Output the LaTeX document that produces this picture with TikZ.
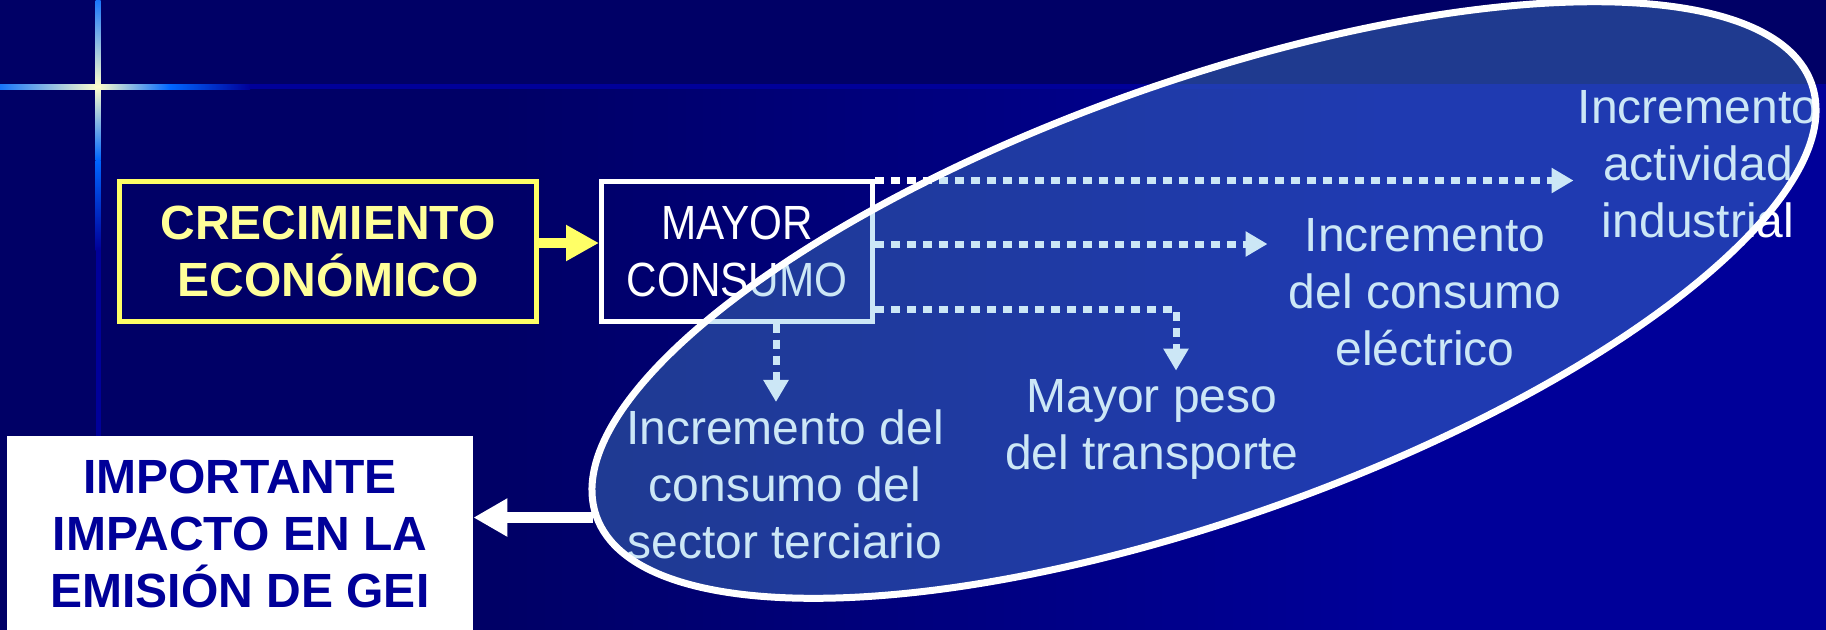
\documentclass[tikz,border=0pt]{standalone}
\usepackage{fontspec}
\setmainfont{Liberation Sans}
\newfontfamily\narrowfont[FakeStretch=0.88]{Liberation Sans}
\usepackage{tikz}
\usetikzlibrary{arrows.meta, positioning, shapes.geometric}
\definecolor{navy}{HTML}{000066}
\definecolor{deepblue}{HTML}{000099}
\definecolor{crossblue}{HTML}{0066FF}
\definecolor{cream}{HTML}{FFFFCC}
\definecolor{yelline}{HTML}{FFFF66}
\definecolor{yeltext}{HTML}{FFFF99}
\definecolor{impblue}{HTML}{000099}
\definecolor{cloudfill}{HTML}{61B5E6}

\begin{document}
\begin{tikzpicture}[x=0.5pt, y=-0.5pt, node distance=30pt,
    txt/.style={align=center, inner sep=0pt, text=white, font=\fontsize{24}{28.5}\selectfont},
    dotarrow/.style={-{Triangle[length=11pt, width=12pt]}, white, line width=3.5pt, dash pattern=on 4.5pt off 3.5pt}]
    \useasboundingbox (0,0) rectangle (1826,629);
    % Background
    \fill[navy] (-10,-10) rectangle (1836,86.5);
    \fill[navy] (-10,86.5) rectangle (500,640);
    \shade[left color=navy, right color=deepblue] (500,86.5) rectangle (1400,640);
    \fill[deepblue] (1400,86.5) rectangle (1836,640);
    % Cross
    \shade[left color=crossblue, right color=cream] (-10,84) rectangle (98,89);
    \shade[left color=cream, right color=crossblue] (98,84) rectangle (170,89);
    \shade[left color=crossblue, right color=deepblue] (170,84) rectangle (250,89);
    \fill[deepblue] (250,84) rectangle (1836,89);
    \shade[top color=crossblue, bottom color=cream] (95.5,-10) rectangle (100.5,86.5);
    \shade[top color=cream, bottom color=crossblue] (95.5,86.5) rectangle (100.5,160);
    \shade[top color=crossblue, bottom color=deepblue] (95.5,160) rectangle (100.5,250);
    \fill[deepblue] (95.5,250) rectangle (100.5,640);

    % Nodes
    \node[draw=yelline, line width=2.5pt, minimum width=208.5pt, minimum height=70pt, inner sep=0pt, align=center, text=yeltext, font=\bfseries\fontsize{24}{28.5}\selectfont] (crec) at (328,251) {CRECIMIENTO\\ECONÓMICO};
    \node[draw=white, line width=2.5pt, minimum width=135.5pt, minimum height=70pt, inner sep=0pt, align=center, text=white, font=\narrowfont\fontsize{24}{28.5}\selectfont, right=of crec] (mayor) {MAYOR\\CONSUMO};
    \node[fill=white, minimum width=233pt, minimum height=97.5pt, inner sep=0pt, align=center, text=impblue, font=\bfseries\fontsize{24}{28.5}\selectfont] (imp) at (240,533.5) {IMPORTANTE\\IMPACTO EN LA\\EMISIÓN DE GEI};
    \node[txt] (ind) at (1698,164) {Incremento\\actividad\\industrial};
    \node[txt] (elec) at (1425,292.5) {Incremento\\del consumo\\eléctrico};
    \node[txt] (transp) at (1152,429) {Mayor peso\\del transporte};
    \node[txt] (terc) at (785,484) {Incremento del\\consumo del\\sector terciario};

    % Arrows
    \draw[-{Triangle[length=16.5pt, width=17pt]}, yelline, line width=5pt] ([yshift=4pt]crec.east) -- ([yshift=4pt]mayor.west);
    \coordinate (m1) at ([yshift=-1pt]mayor.north east);
    \coordinate (m2) at ([yshift=3.5pt]mayor.east);
    \coordinate (m3) at ([yshift=-29pt]mayor.east);
    \coordinate (m4) at ([xshift=19.5pt]mayor.south);
    \draw[dotarrow, shorten >=2pt] (m1) -- (m1 -| ind.west);
    \draw[dotarrow, shorten >=10.5pt] (m2) -- (m2 -| elec.west);
    \draw[dotarrow, shorten >=4pt] (m3) -| ([xshift=12pt]transp.north);
    \draw[dotarrow, shorten >=3.5pt] (m4) -- (m4 |- terc.north);

    % Ellipse
    \node[ellipse, draw=white, line width=3.5pt, fill=cloudfill, fill opacity=0.32, rotate=19.6, minimum width=645pt, minimum height=218pt, inner sep=0pt] (cloud) at (1204,300) {};
    \draw[-{Triangle[length=17pt, width=18pt]}, white, line width=5.5pt] (cloud.west) -- (cloud.west -| imp.east);
\end{tikzpicture}
\end{document}
